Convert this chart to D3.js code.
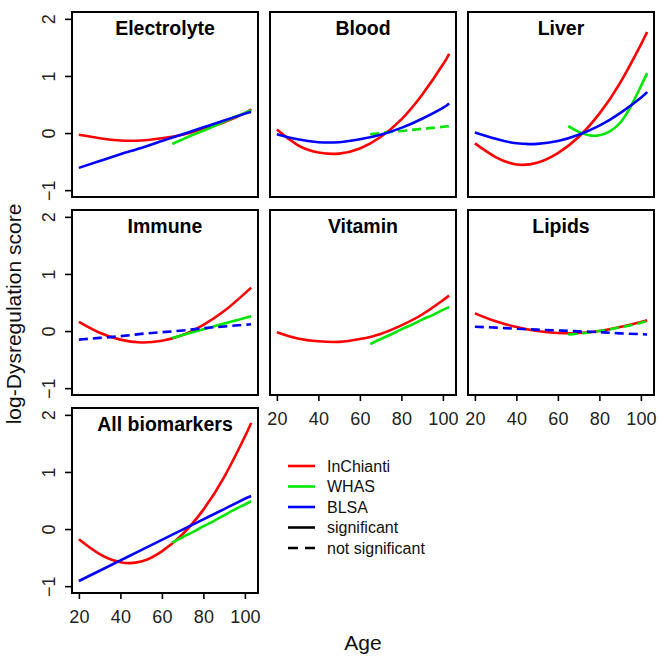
<!DOCTYPE html>
<html>
<head>
<meta charset="utf-8">
<script src="https://cdn.jsdelivr.net/npm/d3@7"></script>
<style>
  body { margin: 0; background: #fff; }
  text { font-family: "Liberation Sans", Arial, sans-serif; }
</style>
</head>
<body>
<div id="chart"></div>
<script>
var ages = [20, 30, 40, 50, 60, 70, 80, 90, 100, 103];
var agesWHAS = [65, 70, 75, 80, 85, 90, 95, 100, 103];

var panelNames = ["Electrolyte", "Blood", "Liver", "Immune", "Vitamin", "Lipids", "All biomarkers"];

// InChianti (red), one row per panel, over ages
var inchianti = [
    [-0.03, -0.09, -0.13, -0.13, -0.09, -0.03, 0.07, 0.19, 0.35, 0.42],
    [0.06, -0.21, -0.34, -0.36, -0.27, -0.07, 0.24, 0.67, 1.20, 1.39],
    [-0.18, -0.42, -0.55, -0.52, -0.35, -0.07, 0.34, 0.88, 1.55, 1.77],
    [0.16, -0.03, -0.15, -0.20, -0.17, -0.07, 0.11, 0.35, 0.66, 0.76],
    [-0.02, -0.13, -0.18, -0.19, -0.14, -0.05, 0.10, 0.29, 0.54, 0.62],
    [0.31, 0.17, 0.07, 0.0, -0.035, -0.035, 0.0, 0.07, 0.16, 0.19],
    [-0.18, -0.44, -0.58, -0.57, -0.39, -0.09, 0.34, 0.91, 1.62, 1.86]
];

// WHAS (green), over agesWHAS
var whas = [
    [-0.19, -0.11, -0.03, 0.04, 0.12, 0.20, 0.28, 0.35, 0.40],
    [-0.02, 0.0, 0.02, 0.035, 0.055, 0.075, 0.09, 0.11, 0.12],
    [0.12, 0.02, -0.04, -0.04, 0.03, 0.18, 0.46, 0.82, 1.05],
    [-0.12, -0.07, -0.02, 0.03, 0.08, 0.13, 0.18, 0.23, 0.26],
    [-0.23, -0.14, -0.06, 0.03, 0.11, 0.20, 0.28, 0.37, 0.42],
    [-0.06, -0.045, -0.025, 0.0, 0.03, 0.065, 0.10, 0.145, 0.17],
    [-0.24, -0.14, -0.05, 0.05, 0.14, 0.24, 0.34, 0.43, 0.49]
];

// BLSA (blue), over ages; no BLSA curve for Vitamin
var blsa = [
    [-0.61, -0.49, -0.37, -0.26, -0.14, -0.02, 0.10, 0.22, 0.34, 0.37],
    [-0.02, -0.11, -0.16, -0.16, -0.11, -0.03, 0.09, 0.25, 0.44, 0.52],
    [0.01, -0.10, -0.18, -0.19, -0.14, -0.03, 0.13, 0.35, 0.62, 0.72],
    [-0.15, -0.12, -0.09, -0.05, -0.02, 0.01, 0.05, 0.08, 0.11, 0.12],
    null,
    [0.075, 0.06, 0.04, 0.025, 0.01, -0.005, -0.02, -0.04, -0.055, -0.06],
    [-0.91, -0.73, -0.55, -0.37, -0.19, -0.01, 0.17, 0.35, 0.53, 0.58]
];

// significance flags (false = dashed)
var whasSig = [true, false, true, true, true, false, true];
var blsaSig = [true, true, true, false, true, false, true];

var xTicks = [20, 40, 60, 80, 100];
var yTicks = [-1, 0, 1, 2];

var legendLabels = ["InChianti", "WHAS", "BLSA", "significant", "not significant"];
var legendColors = ["#ff0000", "#00e600", "#0000ff", "#000000", "#000000"];
var legendDash = [null, null, null, null, "10,7"];

// layout
var svgWidth = 659, svgHeight = 660;
var colLeft = [72, 270, 468], rowTop = [12, 210, 408];
var pw = 186, ph = 185;
var red = "#ff0000", green = "#00e600", blue = "#0000ff";

var svg = d3.select("#chart").append("svg")
    .attr("width", svgWidth)
    .attr("height", svgHeight);

// R style 4% padding around [20,103] and [-1,2]
var x = d3.scaleLinear().domain([20 - 83 * 0.04, 103 + 83 * 0.04]).range([0, pw]);
var y = d3.scaleLinear().domain([-1 - 3 * 0.04, 2 + 3 * 0.04]).range([ph, 0]);

function lineFor(xs) {
    return d3.line()
        .x(function(d, i) { return x(xs[i]); })
        .y(function(d) { return y(d); })
        .curve(d3.curveNatural);
}

panelNames.forEach(function(name, i) {
    var col = i % 3, row = Math.floor(i / 3);
    var g = svg.append("g")
        .attr("transform", `translate(${colLeft[col]}, ${rowTop[row]})`);

    // curves: red first, then green, then blue on top
    g.append("path")
        .attr("d", lineFor(ages)(inchianti[i]))
        .attr("fill", "none").attr("stroke", red).attr("stroke-width", 2.6);
    if (whas[i]) {
        g.append("path")
            .attr("d", lineFor(agesWHAS)(whas[i]))
            .attr("fill", "none").attr("stroke", green).attr("stroke-width", 2.6)
            .attr("stroke-dasharray", whasSig[i] ? null : "9,5");
    }
    if (blsa[i]) {
        g.append("path")
            .attr("d", lineFor(ages)(blsa[i]))
            .attr("fill", "none").attr("stroke", blue).attr("stroke-width", 2.6)
            .attr("stroke-dasharray", blsaSig[i] ? null : "9,5");
    }

    // box
    g.append("rect")
        .attr("width", pw).attr("height", ph)
        .attr("fill", "none").attr("stroke", "#000").attr("stroke-width", 2);

    // title
    g.append("text")
        .attr("x", pw / 2).attr("y", 23)
        .attr("text-anchor", "middle")
        .attr("font-size", 19.5).attr("font-weight", "bold")
        .text(name);

    // y axis on the first column
    if (col === 0) {
        var ya = g.append("g")
            .call(d3.axisLeft(y).tickValues(yTicks).tickSize(7)
                .tickFormat(function(d) { return d < 0 ? "\u2212" + Math.abs(d) : d; }));
        ya.select(".domain").remove();
        ya.selectAll("line").attr("stroke-width", 1.6);
        ya.selectAll("text")
            .attr("transform", "rotate(-90)")
            .attr("x", 0).attr("y", -17).attr("dy", null)
            .attr("text-anchor", "middle")
            .attr("font-size", 18).attr("font-family", "Liberation Sans, Arial, sans-serif")
            .attr("fill", "#222");
    }

    // x axis on the bottom panels of each column
    if (i >= 4) {
        var xa = g.append("g")
            .attr("transform", `translate(0, ${ph})`)
            .call(d3.axisBottom(x).tickValues(xTicks).tickSize(6).tickPadding(11));
        xa.select(".domain").remove();
        xa.selectAll("line").attr("stroke-width", 1.6);
        xa.selectAll("text")
            .attr("font-size", 18).attr("font-family", "Liberation Sans, Arial, sans-serif")
            .attr("fill", "#222");
    }
});

// axis titles
svg.append("text")
    .attr("transform", "translate(21, 314) rotate(-90)")
    .attr("text-anchor", "middle")
    .attr("font-size", 21).attr("fill", "#111")
    .text("log-Dysregulation score");

svg.append("text")
    .attr("x", 363).attr("y", 650)
    .attr("text-anchor", "middle")
    .attr("font-size", 21).attr("fill", "#111")
    .text("Age");

// legend
var legend = svg.append("g").attr("transform", "translate(288, 466)");
legendLabels.forEach(function(lab, k) {
    var row = legend.append("g").attr("transform", `translate(0, ${k * 20.5})`);
    row.append("line")
        .attr("x1", 0).attr("x2", 27)
        .attr("stroke", legendColors[k]).attr("stroke-width", 2.6)
        .attr("stroke-dasharray", legendDash[k]);
    row.append("text")
        .attr("x", 39).attr("dy", "0.35em")
        .attr("font-size", 16).attr("fill", "#111")
        .text(lab);
});
</script>
</body>
</html>
